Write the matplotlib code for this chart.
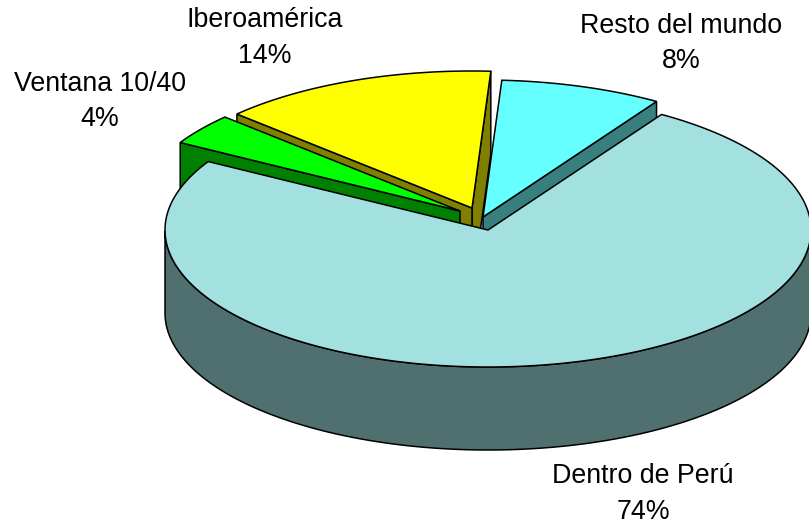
import matplotlib
matplotlib.use("Agg")
import matplotlib.pyplot as plt
import numpy as np

# sharing of the pie, going counter clockwise from the start angle
categories = ['Resto del mundo', 'Iberoamérica', 'Ventana 10/40', 'Dentro de Perú']
values = [8.1, 13.9, 3.7, 74.3]

top_colors = ['#66FFFF', '#FFFF00', '#00FF00', '#A3E0E0']
side_colors = ['#388080', '#808000', '#008000', '#507070']

# layout in pixels
width_px = 809
height_px = 527
start_angle = 57.5
rx = 323
ry = 137
depth = 83
centers = [(483, 217), (472, 208), (460, 211), (488, 230)]
label_pos = [(681, 43.5), (265, 38), (100, 101.5), (643, 494)]
draw_order = [1, 0, 2, 3]

plt.rcParams['font.family'] = ['Liberation Sans', 'DejaVu Sans']

fig = plt.figure(figsize=(width_px / 100, height_px / 100), dpi=100)
ax = fig.add_axes([0, 0, 1, 1])
ax.set_xlim(0, width_px)
ax.set_ylim(height_px, 0)
ax.axis('off')


def edge_point(center, angle):
    t = np.radians(angle)
    return center[0] + rx * np.cos(t), center[1] - ry * np.sin(t)


def draw_slice(center, a1, a2, top_color, side_color):
    # radial faces first, only those turned to the viewer, then wall and top
    for a, normal in ((a1, a1 - 90), (a2, a2 + 90)):
        if np.sin(np.radians(normal)) < 0:
            p = edge_point(center, a)
            face = [center, p, (p[0], p[1] + depth), (center[0], center[1] + depth)]
            ax.fill(*zip(*face), facecolor=side_color, edgecolor='black', linewidth=1.1)

    angles = np.linspace(a1, a2, 300)
    front = angles[np.sin(np.radians(angles)) < 0]
    if len(front) > 0:
        xs, ys = edge_point(center, front)
        ax.fill(np.r_[xs, xs[::-1]], np.r_[ys, ys[::-1] + depth],
                facecolor=side_color, edgecolor='black', linewidth=1.1)

    xs, ys = edge_point(center, angles)
    ax.fill(np.r_[center[0], xs], np.r_[center[1], ys],
            facecolor=top_color, edgecolor='black', linewidth=1.1)


spans = np.array(values) / sum(values) * 360
ends = start_angle + np.cumsum(spans)
starts = ends - spans

for i in draw_order:
    draw_slice(centers[i], starts[i], ends[i], top_colors[i], side_colors[i])

for name, val, pos in zip(categories, values, label_pos):
    ax.text(pos[0], pos[1], '%s\n%.0f%%' % (name, val), ha='center', va='center',
            fontsize=19.3, color='black', linespacing=1.49)

fig.savefig('out.png', dpi=100)
